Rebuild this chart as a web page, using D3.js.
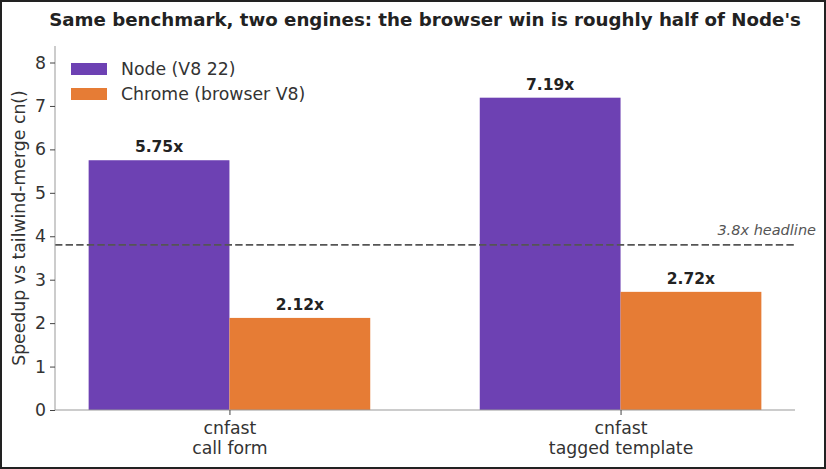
<!DOCTYPE html>
<html>
<head>
<meta charset="utf-8">
<script src="https://cdn.jsdelivr.net/npm/d3@7"></script>
<style>
  html, body { margin: 0; padding: 0; background: #fff; }
  svg { display: block; font-family: "DejaVu Sans", sans-serif; }
</style>
</head>
<body>
<svg width="826" height="469"></svg>
<script>
var categories = ["cnfast\ncall form", "cnfast\ntagged template"];
var seriesNames = ["Node (V8 22)", "Chrome (browser V8)"];
var nodeValues = [5.75, 7.19];
var chromeValues = [2.12, 2.72];
var yTicks = [0, 1, 2, 3, 4, 5, 6, 7, 8];
var headline = 3.8;

var colors = ["#6d41b3", "#e67c35"];

var svg = d3.select("svg"),
  width = +svg.attr("width"),
  height = +svg.attr("height"),
  margin = { top: 46, right: 31, bottom: 59, left: 55 },
  iw = width - margin.left - margin.right,
  ih = height - margin.top - margin.bottom;

svg.append("rect")
  .attr("x", 1).attr("y", 1)
  .attr("width", width - 2).attr("height", height - 2)
  .attr("fill", "#fff")
  .attr("stroke", "#222")
  .attr("stroke-width", 2);

var g = svg.append("g").attr("transform", "translate(" + margin.left + "," + margin.top + ")");

// matplotlib style: positions 0,1, bar width 0.36, 5% margins
var barW = 0.36;
var xmin = -barW - 0.05 * (1 + 2 * barW), xmax = 1 + barW + 0.05 * (1 + 2 * barW);
var x = d3.scaleLinear().domain([xmin, xmax]).range([0, iw]);
var y = d3.scaleLinear().domain([0, 8.38]).range([ih, 0]);

var data = categories.map(function (c, i) {
  return { cat: c, i: i, values: [nodeValues[i], chromeValues[i]] };
});

var groups = g.selectAll("g.grp")
  .data(data)
  .enter().append("g")
  .attr("class", "grp");

groups.selectAll("rect")
  .data(function (d) { return d.values.map(function (v, k) { return { v: v, k: k, i: d.i }; }); })
  .enter().append("rect")
  .attr("x", function (d) { return x(d.i + (d.k - 1) * barW); })
  .attr("width", function () { return x(barW) - x(0); })
  .attr("y", function (d) { return y(d.v); })
  .attr("height", function (d) { return y(0) - y(d.v); })
  .attr("fill", function (d) { return colors[d.k]; });

groups.selectAll("text.val")
  .data(function (d) { return d.values.map(function (v, k) { return { v: v, k: k, i: d.i }; }); })
  .enter().append("text")
  .attr("class", "val")
  .attr("x", function (d) { return x(d.i + (d.k - 0.5) * barW); })
  .attr("y", function (d) { return y(d.v) - 8; })
  .attr("text-anchor", "middle")
  .attr("font-size", "15.5px")
  .attr("font-weight", "bold")
  .attr("fill", "#222")
  .text(function (d) { return d.v.toFixed(2) + "x"; });

// headline line
g.append("line")
  .attr("x1", 0).attr("x2", iw)
  .attr("y1", y(headline)).attr("y2", y(headline))
  .attr("stroke", "#555")
  .attr("stroke-width", 1.8)
  .attr("stroke-dasharray", "7.4,3.2");

g.append("text")
  .attr("x", iw + 21)
  .attr("y", y(headline) - 10)
  .attr("text-anchor", "end")
  .attr("font-size", "14.5px")
  .attr("font-style", "italic")
  .attr("fill", "#555")
  .text(headline + "x headline");

// y axis
var yAxis = g.append("g")
  .call(d3.axisLeft(y).tickValues(yTicks).tickSize(5).tickPadding(4).tickFormat(d3.format("d")));
yAxis.select(".domain").attr("stroke", "#999").attr("d", "M0," + ih + "V0");
yAxis.selectAll(".tick line").attr("stroke", "#444");
yAxis.selectAll(".tick text").attr("font-size", "17.3px").attr("fill", "#333").attr("font-family", "DejaVu Sans");

// x axis
var xAxis = g.append("g")
  .attr("transform", "translate(0," + ih + ")")
  .call(d3.axisBottom(x).tickValues([0, 1]).tickSize(5).tickFormat(""));
xAxis.select(".domain").attr("stroke", "#999").attr("d", "M0,0H" + iw);
xAxis.selectAll(".tick line").attr("stroke", "#444");

xAxis.selectAll(".tick").each(function (d) {
  var lines = categories[d].split("\n");
  var t = d3.select(this).append("text")
    .attr("text-anchor", "middle")
    .attr("font-size", "17.3px")
    .attr("font-family", "DejaVu Sans")
    .attr("fill", "#333");
  lines.forEach(function (l, j) {
    t.append("tspan").attr("x", 0).attr("y", 24 + j * 20).text(l);
  });
});

// y label
svg.append("text")
  .attr("transform", "translate(25," + (margin.top + ih / 2) + ")rotate(-90)")
  .attr("text-anchor", "middle")
  .attr("font-size", "17.3px")
  .attr("fill", "#333")
  .text("Speedup vs tailwind-merge cn()");

// title
svg.append("text")
  .attr("x", 425)
  .attr("y", 26)
  .attr("text-anchor", "middle")
  .attr("font-size", "18.2px")
  .attr("font-weight", "bold")
  .attr("fill", "#222")
  .text("Same benchmark, two engines: the browser win is roughly half of Node's");

// legend
var legend = g.append("g")
  .selectAll("g")
  .data(seriesNames)
  .enter().append("g")
  .attr("transform", function (d, i) { return "translate(16," + (17 + i * 25) + ")"; });

legend.append("rect")
  .attr("width", 36)
  .attr("height", 12)
  .attr("fill", function (d, i) { return colors[i]; });

legend.append("text")
  .attr("x", 50)
  .attr("y", 6)
  .attr("dy", "0.35em")
  .attr("font-size", "17.3px")
  .attr("fill", "#333")
  .text(function (d) { return d; });
</script>
</body>
</html>
